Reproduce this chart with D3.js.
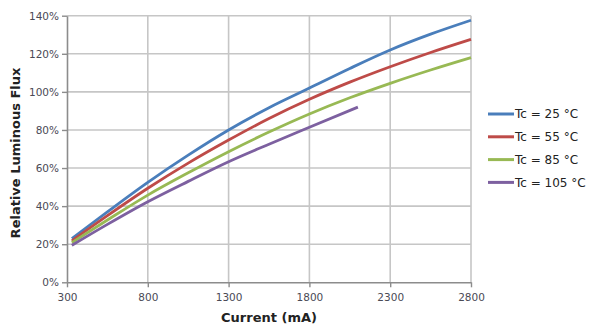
<!DOCTYPE html>
<html>
<head>
<meta charset="utf-8">
<script src="https://cdn.jsdelivr.net/npm/d3@7/dist/d3.min.js"></script>
<style>
  html, body { margin: 0; padding: 0; background: #fff; }
  svg { display: block; }
</style>
</head>
<body>
<svg id="chart" width="600" height="333"></svg>
<script>
// Relative luminous flux vs. drive current at several case temperatures
const currents = [330, 550, 800, 1050, 1300, 1550, 1800, 2050, 2300, 2550, 2800];
const flux25  = [23.0, 37.0, 52.5, 66.8, 80.0, 91.7, 102.0, 112.3, 122.0, 130.3, 137.6];
const flux55  = [21.8, 35.0, 49.4, 62.6, 74.7, 86.0, 96.1, 105.1, 113.2, 120.7, 127.6];
const flux85  = [20.8, 32.7, 45.8, 57.5, 68.6, 78.9, 88.4, 96.9, 104.5, 111.5, 118.0];
const currents105 = [330, 550, 800, 1050, 1300, 1550, 1800, 2100];
const flux105 = [19.4, 30.4, 42.3, 53.0, 63.3, 72.5, 81.4, 92.0];

const seriesNames = ["Tc = 25 °C", "Tc = 55 °C", "Tc = 85 °C", "Tc = 105 °C"];
const seriesColors = ["#4a7ebb", "#be4b48", "#98b954", "#7d60a0"];

const xTicks = [300, 800, 1300, 1800, 2300, 2800];
const yTicks = [0, 20, 40, 60, 80, 100, 120, 140];

const series = [
  { name: seriesNames[0], color: seriesColors[0], xs: currents, ys: flux25 },
  { name: seriesNames[1], color: seriesColors[1], xs: currents, ys: flux55 },
  { name: seriesNames[2], color: seriesColors[2], xs: currents, ys: flux85 },
  { name: seriesNames[3], color: seriesColors[3], xs: currents105, ys: flux105 }
];

const svg = d3.select("#chart");
const plotLeft = 67, plotRight = 471, plotTop = 15.7, plotBottom = 282.3;

const x = d3.scaleLinear().domain([300, 2800]).range([plotLeft, plotRight]);
const y = d3.scaleLinear().domain([0, 140]).range([plotBottom, plotTop]);

const font = "'DejaVu Sans', Verdana, sans-serif";

// grid
const grid = svg.append("g");
grid.selectAll("line.h").data(yTicks.filter(d => d > 0)).join("line")
  .attr("class", "h")
  .attr("x1", plotLeft).attr("x2", plotRight)
  .attr("y1", d => y(d)).attr("y2", d => y(d))
  .attr("stroke", "#c6c6c6").attr("stroke-width", 1.6);
grid.selectAll("line.v").data(xTicks.filter(d => d > 300)).join("line")
  .attr("class", "v")
  .attr("x1", d => x(d)).attr("x2", d => x(d))
  .attr("y1", plotTop).attr("y2", plotBottom)
  .attr("stroke", "#c6c6c6").attr("stroke-width", 1.6);

// axes
const xAxis = d3.axisBottom(x).tickValues(xTicks).tickFormat(d3.format("d"))
  .tickSize(5).tickSizeOuter(0).tickPadding(4);
const yAxis = d3.axisLeft(y).tickValues(yTicks).tickSize(5).tickSizeOuter(0).tickPadding(3)
  .tickFormat(d => d + "%");

const gx = svg.append("g").attr("transform", `translate(0,${plotBottom})`).call(xAxis);
const gy = svg.append("g").attr("transform", `translate(${plotLeft},0)`).call(yAxis);
[gx, gy].forEach(g => {
  g.select(".domain").attr("stroke", "#8c8c8c").attr("stroke-width", 1.6);
  g.selectAll(".tick line").attr("stroke", "#8c8c8c").attr("stroke-width", 1.4);
  g.selectAll(".tick text").attr("fill", "#4a4a55").style("font-family", font).style("font-size", "10.5px");
});
gx.selectAll(".tick text").attr("dy", "0.9em");

// series lines
const line = d3.line().curve(d3.curveMonotoneX);
svg.append("g").selectAll("path").data(series).join("path")
  .attr("d", s => line(s.xs.map((c, i) => [x(c), y(s.ys[i])])))
  .attr("fill", "none")
  .attr("stroke", s => s.color)
  .attr("stroke-width", 2.8)
  .attr("stroke-linecap", "butt");

// axis titles
svg.append("text")
  .attr("x", (plotLeft + plotRight) / 2).attr("y", 322)
  .attr("text-anchor", "middle")
  .style("font-family", font).style("font-size", "13px").style("font-weight", "bold")
  .attr("fill", "#222")
  .text("Current (mA)");

svg.append("text")
  .attr("transform", `translate(20,${(plotTop + plotBottom) / 2 + 4}) rotate(-90)`)
  .attr("text-anchor", "middle")
  .style("font-family", font).style("font-size", "13px").style("font-weight", "bold")
  .attr("fill", "#222")
  .text("Relative Luminous Flux");

// legend
const legend = svg.append("g");
const rows = legend.selectAll("g").data(series).join("g")
  .attr("transform", (d, i) => `translate(488,${114 + i * 22.8})`);
rows.append("line")
  .attr("x1", 0).attr("x2", 26).attr("y1", 0).attr("y2", 0)
  .attr("stroke", d => d.color).attr("stroke-width", 3);
rows.append("text")
  .attr("x", 27).attr("y", 0).attr("dy", "0.36em")
  .style("font-family", font).style("font-size", "12px")
  .attr("fill", "#222")
  .text(d => d.name);
</script>
</body>
</html>
